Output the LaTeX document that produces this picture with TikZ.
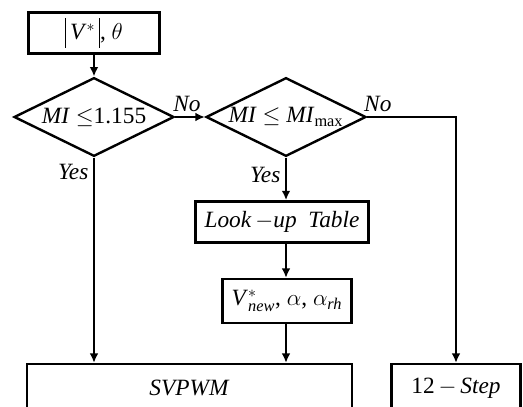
\documentclass[tikz,border=0pt]{standalone}
\usepackage{amsmath}
\usepackage{fontspec}
\setmainfont{Liberation Serif}
\usepackage{tikz}
\usetikzlibrary{shapes.geometric,arrows.meta}

\newcommand{\vbar}{\rule[-6pt]{0.7pt}{22pt}}

\begin{document}
\begin{tikzpicture}[x=0.75pt,y=-0.75pt,
    font=\fontsize{17.5}{20}\selectfont,
    box/.style={draw,line width=1.8pt,rectangle,inner sep=0pt},
    dec/.style={draw,line width=1.8pt,diamond,aspect=2,inner sep=0pt,
                minimum width=120pt,minimum height=59pt},
    link/.style={line width=1.8pt,-{Latex[length=7pt,width=6.5pt]}}]
  \useasboundingbox (0,0) rectangle (523,406);
  \begin{scope}
  \clip (0,0) rectangle (523,406);
  \node[box,minimum width=98pt,minimum height=31pt] (ref) at (94,33)
       {\vbar\,\textit{V}$^{*}$\,\vbar,\ $\theta$};
  \node[dec] (d1) at (94,117) {\textit{MI} $\leq$1.155};
  \node[dec] (d2) at (286,117) {\textit{MI} $\leq$ \textit{MI}$_{\text{max}}$};
  \node[box,minimum width=130pt,minimum height=31pt] (lut) at (282,222)
       {\textit{Look}\,$-$\textit{up}\ \ \textit{Table}};
  \node[box,minimum width=97pt,minimum height=33pt] (vnew) at (287,301)
       {\textit{V}$^{*}_{\textit{new}}$,\ $\alpha$,\ $\alpha_{\textit{rh}}$};
  \node[box,minimum width=244pt,minimum height=36pt] (svpwm) at (189.5,388)
       {\textit{SVPWM}};
  \node[box,minimum width=97pt,minimum height=36pt] (step12) at (456,388)
       {12$\,-\,$\textit{Step}};
  \end{scope}

  \draw[link] (ref) -- (d1);
  \draw[link] (d1) -- node[above,pos=0.4] {\textit{No}} (d2);
  \draw[link] (d1.south) -- node[left,pos=0.07] {\textit{Yes}} (d1.south |- svpwm.north);
  \draw[link] (d2.south) -- node[left,pos=0.4] {\textit{Yes}} (d2.south |- lut.north);
  \draw[link] (d2.south |- lut.south) -- (d2.south |- vnew.north);
  \draw[link] (d2.south |- vnew.south) -- (d2.south |- svpwm.north);
  \draw[link] (d2.east) -| node[above,pos=0.06] {\textit{No}} (step12.north);
\end{tikzpicture}
\end{document}
